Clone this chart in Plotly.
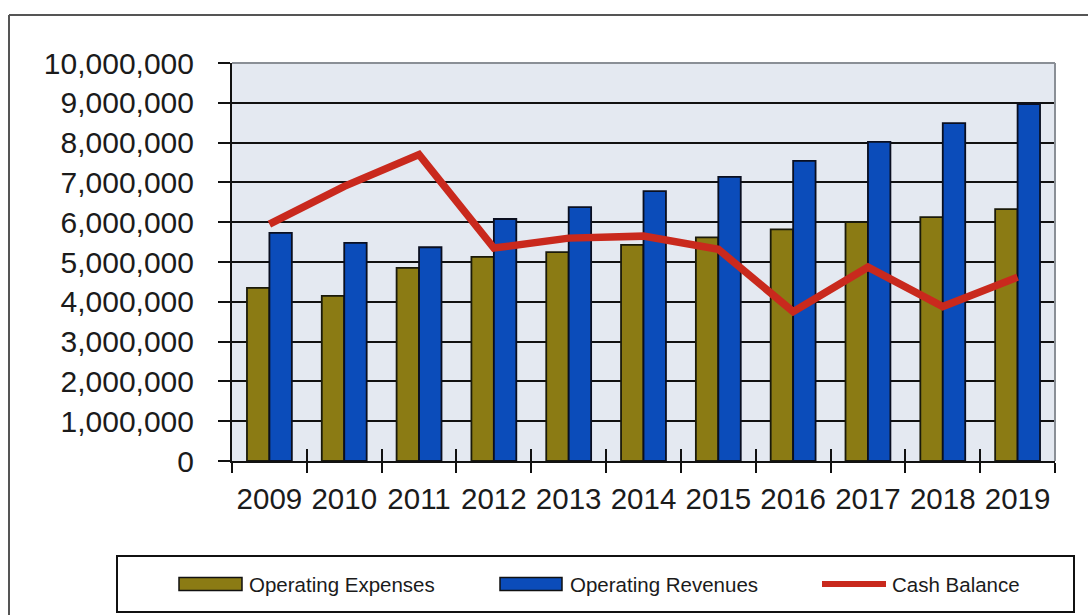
import plotly.graph_objects as go

# ---- data -------------------------------------------------------------
years = ["2009", "2010", "2011", "2012", "2013", "2014",
         "2015", "2016", "2017", "2018", "2019"]
operating_expenses = [4350000, 4150000, 4850000, 5130000, 5250000, 5430000,
                      5620000, 5820000, 6000000, 6130000, 6330000]
operating_revenues = [5730000, 5480000, 5370000, 6080000, 6380000, 6780000,
                      7140000, 7540000, 8020000, 8490000, 8970000]
cash_balance = [5950000, 6900000, 7700000, 5350000, 5600000, 5650000,
                5320000, 3750000, 4870000, 3880000, 4620000]
series_names = ["Operating Expenses", "Operating Revenues", "Cash Balance"]
y_ticks = list(range(0, 10000001, 1000000))

# ---- styling ------------------------------------------------------------
EXP_COLOR = "#8b7b14"
REV_COLOR = "#0b4cba"
CASH_COLOR = "#c9291d"
TEXT_COLOR = "#1b1b1b"
FONT = "Liberation Sans, Arial, Helvetica, sans-serif"

W, H = 1088, 615
M_L, M_R, M_T, M_B = 232, 33, 63, 154
PLOT_W = W - M_L - M_R
PLOT_H = H - M_T - M_B


def px_x(px):
    """Pixel column -> paper x."""
    return (px - M_L) / PLOT_W


def px_y(py):
    """Pixel row -> paper y."""
    return (H - M_B - py) / PLOT_H


fig = go.Figure()

fig.add_trace(go.Bar(
    x=years, y=operating_expenses, name=series_names[0],
    marker=dict(color=EXP_COLOR, line=dict(color="#1a1a0a", width=1.8)),
))
fig.add_trace(go.Bar(
    x=years, y=operating_revenues, name=series_names[1],
    marker=dict(color=REV_COLOR, line=dict(color="#0a0f20", width=1.8)),
))
fig.add_trace(go.Scatter(
    x=years, y=cash_balance, name=series_names[2], mode="lines",
    line=dict(color=CASH_COLOR, width=7.5),
))
# invisible helper trace so the overlay axis carries the same categories
fig.add_trace(go.Scatter(
    x=years, y=[None] * len(years), xaxis="x2", mode="lines",
    showlegend=False, hoverinfo="skip",
))

fig.update_layout(
    width=W, height=H,
    margin=dict(l=M_L, r=M_R, t=M_T, b=M_B, pad=0, autoexpand=False),
    paper_bgcolor="white",
    plot_bgcolor="#e4e9f1",
    barmode="group",
    bargap=0.40,
    bargroupgap=0,
    showlegend=False,
    font=dict(family=FONT, color=TEXT_COLOR),
    xaxis=dict(
        type="category", categoryorder="array", categoryarray=years,
        tickson="boundaries", ticks="outside", ticklen=10, tickwidth=2,
        tickcolor="#111", showgrid=False, showline=True, linecolor="#111",
        linewidth=2, tickfont=dict(size=29.5, color=TEXT_COLOR),
        tickangle=0, automargin=False,
        ticklabelstandoff=11, zeroline=False,
    ),
    xaxis2=dict(
        type="category", categoryorder="array", categoryarray=years,
        overlaying="x", matches="x", tickson="boundaries", ticks="inside",
        ticklen=12, tickwidth=2, tickcolor="#111", showticklabels=False,
        showgrid=False, showline=False, zeroline=False, automargin=False,
    ),
    yaxis=dict(
        range=[0, 10000000], tickvals=y_ticks, tickformat=",d",
        ticks="outside", ticklen=12, tickwidth=2, tickcolor="#111",
        showgrid=True, gridcolor="#111", gridwidth=2,
        showline=True, linecolor="#111", linewidth=2, zeroline=False,
        tickfont=dict(size=30, color=TEXT_COLOR), ticklabelstandoff=18,
        automargin=False,
    ),
)

shapes = []
# thin grey border along the top and right of the plotting area
shapes.append(dict(type="line", xref="paper", yref="paper", x0=0, x1=1,
                   y0=1, y1=1, line=dict(color="#8a8f96", width=2),
                   layer="above"))
shapes.append(dict(type="line", xref="paper", yref="paper", x0=1, x1=1,
                   y0=0, y1=1, line=dict(color="#8a8f96", width=2),
                   layer="above"))
# outer chart frame (top and left edges)
shapes.append(dict(type="line", xref="paper", yref="paper",
                   x0=px_x(9), x1=px_x(W + 5), y0=px_y(15), y1=px_y(15),
                   line=dict(color="#555", width=2)))
shapes.append(dict(type="line", xref="paper", yref="paper",
                   x0=px_x(9), x1=px_x(9), y0=px_y(15), y1=px_y(H + 5),
                   line=dict(color="#555", width=2)))
# legend box
shapes.append(dict(type="rect", xref="paper", yref="paper",
                   x0=px_x(117), x1=px_x(1074), y0=px_y(556), y1=px_y(612),
                   line=dict(color="#111", width=2), fillcolor="white"))

# legend entries
legend_row = 584
legend_items = [
    (series_names[0], EXP_COLOR, "bar", 179, 242, 247),
    (series_names[1], REV_COLOR, "bar", 500, 562, 568),
    (series_names[2], CASH_COLOR, "line", 822, 886, 890),
]
annotations = []
for name, color, kind, sx0, sx1, tx in legend_items:
    if kind == "bar":
        shapes.append(dict(type="rect", xref="paper", yref="paper",
                           x0=px_x(sx0), x1=px_x(sx1),
                           y0=px_y(legend_row + 6.5), y1=px_y(legend_row - 6.5),
                           fillcolor=color, line=dict(color="#111", width=1.5)))
    else:
        shapes.append(dict(type="line", xref="paper", yref="paper",
                           x0=px_x(sx0), x1=px_x(sx1),
                           y0=px_y(legend_row), y1=px_y(legend_row),
                           line=dict(color=color, width=6)))
    annotations.append(dict(xref="paper", yref="paper", x=px_x(tx),
                            y=px_y(legend_row), text=name, showarrow=False,
                            xanchor="left", yanchor="middle",
                            font=dict(size=20.5, color=TEXT_COLOR, family=FONT)))

fig.update_layout(shapes=shapes, annotations=annotations)

fig.write_html("out.html")
